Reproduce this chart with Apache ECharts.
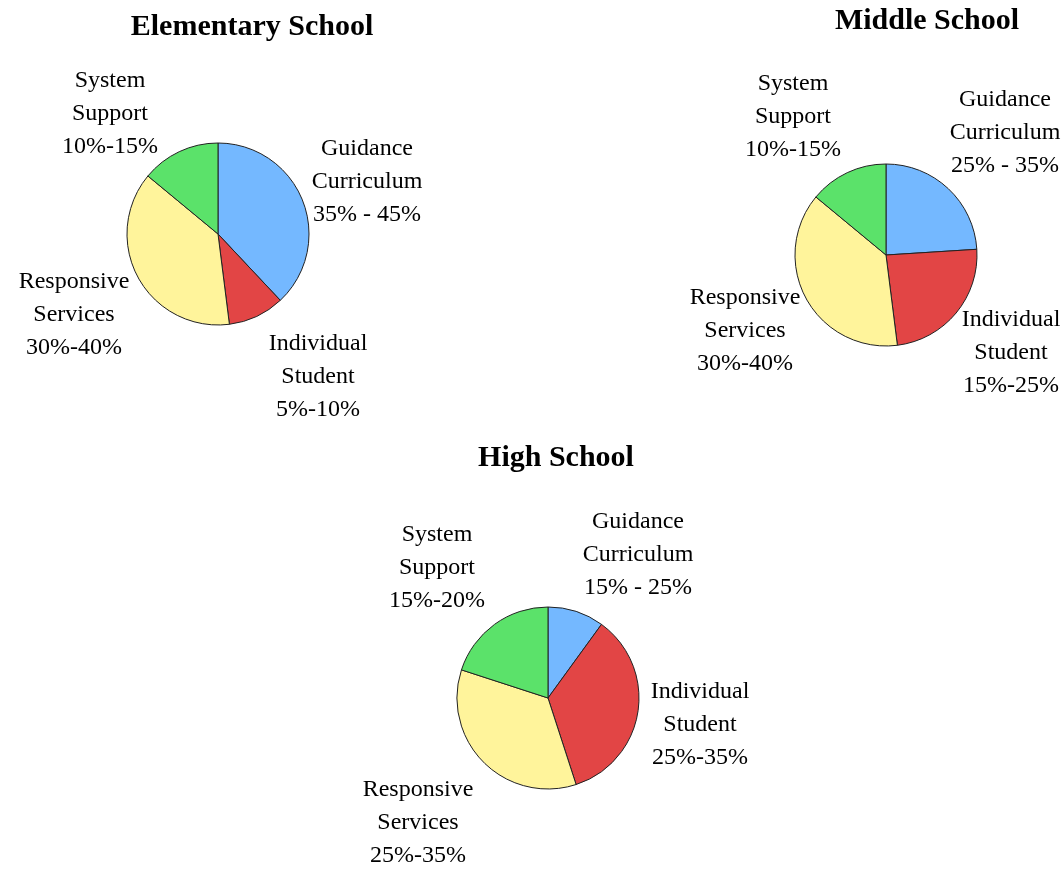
<!DOCTYPE html>
<html>
<head>
<meta charset="utf-8">
<script src="https://cdn.jsdelivr.net/npm/echarts@6/dist/echarts.min.js"></script>
<style>
html,body{margin:0;padding:0;background:#fff;}
#chart{width:1062px;height:869px;}
</style>
</head>
<body>
<div id="chart"></div>
<script>
// ---- data ----
const categories = ["Guidance Curriculum", "Individual Student", "Responsive Services", "System Support"];
const labelLines = [["Guidance", "Curriculum"], ["Individual", "Student"], ["Responsive", "Services"], ["System", "Support"]];
const schools = ["Elementary School", "Middle School", "High School"];
// slice sizes (percent of pie) as drawn
const elementaryValues = [38, 10, 38, 14];
const middleValues = [24, 24, 38, 14];
const highValues = [10, 35, 35, 20];
// range texts printed with each slice
const elementaryRanges = ["35% - 45%", "5%-10%", "30%-40%", "10%-15%"];
const middleRanges = ["25% - 35%", "15%-25%", "30%-40%", "10%-15%"];
const highRanges = ["15% - 25%", "25%-35%", "25%-35%", "15%-20%"];

// ---- layout (positions / styles, not data) ----
const colors = ["#74B8FF", "#E24545", "#FFF49B", "#5BE26A"];
const pieCenters = [[218, 234], [886, 255], [548, 698]];
const pieRadius = 91;
const titlePos = [[252, 12], [927, 6], [556, 443]];
// label block centers [x, y] for each school, per category order
const labelPos = [
  [[367, 182], [318, 377], [74, 315], [110, 114]],
  [[1005, 133], [1011, 353], [745, 331], [793, 117]],
  [[638, 555], [700, 725], [418, 823], [437, 568]]
];

const valueSets = [elementaryValues, middleValues, highValues];
const rangeSets = [elementaryRanges, middleRanges, highRanges];

const serifFont = "'Liberation Serif', 'Times New Roman', serif";

const series = valueSets.map((vals, si) => ({
  type: 'pie',
  name: schools[si],
  center: pieCenters[si],
  radius: pieRadius,
  startAngle: 90,
  clockwise: true,
  avoidLabelOverlap: false,
  animation: false,
  silent: true,
  itemStyle: { borderColor: '#222', borderWidth: 1 },
  label: {
    show: true,
    position: 'outside',
    fontFamily: serifFont,
    fontSize: 24,
    lineHeight: 33,
    color: '#000',
    align: 'center',
    formatter: p => labelLines[p.dataIndex].concat([rangeSets[si][p.dataIndex]]).join('\n')
  },
  labelLine: { show: false },
  labelLayout: p => ({
    x: labelPos[si][p.dataIndex][0],
    y: labelPos[si][p.dataIndex][1],
    align: 'center',
    verticalAlign: 'middle'
  }),
  data: vals.map((v, i) => ({ name: categories[i], value: v, itemStyle: { color: colors[i] } }))
}));

const chart = echarts.init(document.getElementById('chart'), null, { renderer: 'canvas' });
chart.setOption({
  backgroundColor: '#fff',
  animation: false,
  title: schools.map((s, i) => ({
    text: s,
    left: titlePos[i][0],
    top: titlePos[i][1],
    textAlign: 'center',
    padding: 0,
    textStyle: { fontFamily: serifFont, fontWeight: 'bold', fontSize: 30, color: '#000' }
  })),
  series: series
});
</script>
</body>
</html>
